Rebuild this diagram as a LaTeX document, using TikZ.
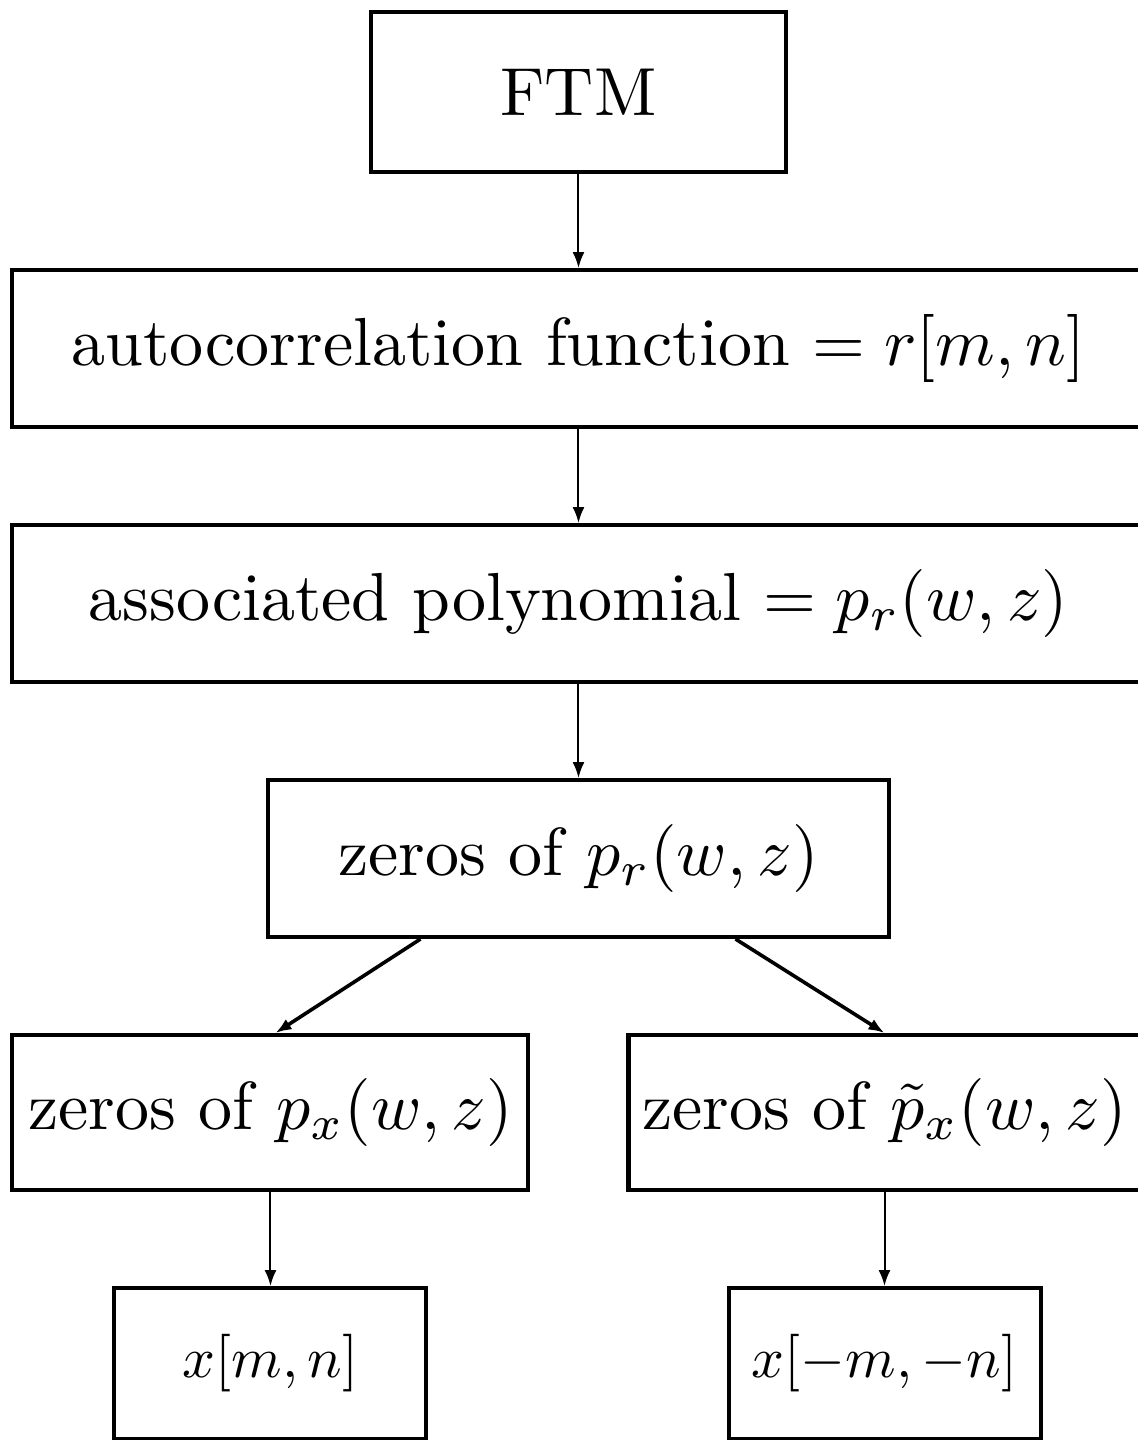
\documentclass[tikz,border=0pt]{standalone}
\usepackage{amsmath}
\usepackage{graphicx}
\usetikzlibrary{arrows.meta, positioning}
% enlarged 10pt lettering, as in the scanned figure
\newcommand{\bigtext}[2][3.4]{\scalebox{#1}{#2}}

\begin{document}
\begin{tikzpicture}[
      box/.style={draw, line width=2pt, minimum height=78.5pt, inner sep=0pt},
      arrow/.style={-{Latex[length=8pt,width=6pt]}, line width=1pt},
      node distance=47pt
    ]
    \useasboundingbox (-289.25pt,-674pt) rectangle (279.25pt,46pt);

    \node[box, minimum width=207.5pt, minimum height=80pt] (ftm) {\bigtext{FTM}};
    \node[box, minimum width=566pt, below=of ftm] (acf)
      {\bigtext{autocorrelation function $= r[m,n]$}};
    \node[box, minimum width=566pt, below=of acf] (poly)
      {\bigtext{associated polynomial $= p_r(w,z)$}};
    \node[box, minimum width=310pt, below=of poly] (zr)
      {\bigtext{zeros of $p_r(w,z)$}};

    % the two branches
    \node[box, minimum width=258pt, minimum height=77.5pt, below=of zr, xshift=-154pt] (zx)
      {\bigtext{zeros of $p_x(w,z)$}};
    \node[box, minimum width=256pt, minimum height=77.5pt, below=of zr, xshift=153pt] (zt)
      {\bigtext{zeros of $\tilde{p}_x(w,z)$}};
    \node[box, minimum width=156pt, minimum height=75.5pt, below=of zx] (xp)
      {\bigtext[2.88]{$x[m,n]$}};
    \node[box, minimum width=156pt, minimum height=75.5pt, below=of zt] (xm)
      {\bigtext[2.88]{$x[-m,-n]$}};

    \foreach \a/\b in {ftm/acf, acf/poly, poly/zr, zx/xp, zt/xm}
      \draw[arrow] (\a) -- (\b);
    \draw[arrow, line width=1.8pt] ([xshift=-79pt]zr.south) -- ([xshift=2.5pt]zx.north);
    \draw[arrow, line width=1.8pt] ([xshift=78.5pt]zr.south) -- (zt.north);
  \end{tikzpicture}
\end{document}
